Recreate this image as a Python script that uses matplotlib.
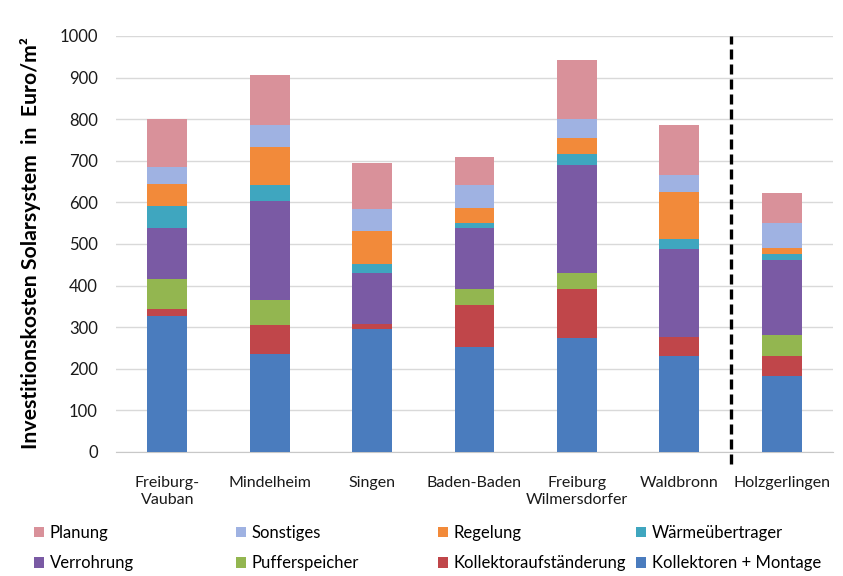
import matplotlib
matplotlib.use("Agg")
import matplotlib.pyplot as plt
from matplotlib.patches import Patch
import numpy as np

plt.rcParams['font.family'] = ['Lato', 'DejaVu Sans']

sites = ["Freiburg-\nVauban", "Mindelheim", "Singen", "Baden-Baden",
         "Freiburg\nWilmersdorfer", "Waldbronn", "Holzgerlingen"]

# cost components in Euro/m² (bottom to top)
kollektoren = [327, 235, 295, 253, 273, 231, 183]
aufstaenderung = [16, 70, 12, 100, 118, 46, 48]
pufferspeicher = [72, 60, 0, 38, 39, 0, 50]
verrohrung = [123, 239, 123, 147, 260, 210, 181]
waermeuebertrager = [53, 39, 22, 13, 26, 24, 14]
regelung = [53, 91, 80, 35, 38, 115, 15]
sonstiges = [42, 52, 52, 56, 46, 40, 59]
planung = [114, 120, 111, 66, 142, 120, 72]

components = [
    ("Kollektoren + Montage", kollektoren, "#4A7CBE"),
    ("Kollektoraufständerung", aufstaenderung, "#C0464A"),
    ("Pufferspeicher", pufferspeicher, "#93B650"),
    ("Verrohrung", verrohrung, "#7A5AA4"),
    ("Wärmeübertrager", waermeuebertrager, "#3FA6BF"),
    ("Regelung", regelung, "#F28A3A"),
    ("Sonstiges", sonstiges, "#9FB2E2"),
    ("Planung", planung, "#D9919A"),
]

fig = plt.figure(figsize=(8.43, 5.76), dpi=100)
ax = fig.add_axes([116 / 843, 1 - 452 / 576, (833 - 116) / 843, (452 - 36) / 576])

x = np.arange(len(sites))
bottom = np.zeros(len(sites))
handles = {}
for name, vals, col in components:
    vals = np.array(vals, dtype=float)
    ax.bar(x, vals, 0.39, bottom=bottom, color=col, edgecolor="none", zorder=3)
    handles[name] = Patch(facecolor=col, edgecolor="none")
    bottom += vals

ax.set_xlim(-0.5, len(sites) - 0.5)
ax.set_ylim(0, 1000)
ax.set_yticks(np.arange(0, 1001, 100))
ax.grid(axis="y", color="#D9D9D9", linewidth=1, zorder=0)
for s in ["left", "right", "top"]:
    ax.spines[s].set_visible(False)
ax.spines["bottom"].set_color("#C8C8C8")
ax.tick_params(axis="both", length=0, colors="#1a1a1a")
ax.tick_params(axis="y", pad=13, labelsize=12)
ax.tick_params(axis="x", pad=17)
ax.set_xticks(x)
ax.set_xticklabels(sites, fontsize=11.5, va="top", linespacing=1.35)

fig.text(31 / 843, 1 - 243 / 576, "Investitionskosten Solarsystem  in  Euro/m²",
         rotation=90, ha="center", va="center", fontsize=15.3, fontweight="bold")

# separator before the last site
ax.plot([5.5, 5.5], [-0.03, 1.0], transform=ax.get_xaxis_transform(),
        color="black", linestyle=(0, (3, 1.5)), linewidth=2.4, clip_on=False, zorder=4)

columns = [("Planung", "Verrohrung"), ("Sonstiges", "Pufferspeicher"),
           ("Regelung", "Kollektoraufständerung"), ("Wärmeübertrager", "Kollektoren + Montage")]
xpos = [34, 236, 438, 636]
for (a, b), xp in zip(columns, xpos):
    fig.legend([handles[a], handles[b]], [a, b], loc="upper left",
               bbox_to_anchor=(xp / 843, 1 - 525 / 576), frameon=False,
               fontsize=12, handlelength=0.6, handleheight=0.6,
               handletextpad=0.35, labelspacing=0.85, borderpad=0,
               borderaxespad=0)

fig.savefig("out.png", dpi=100)
